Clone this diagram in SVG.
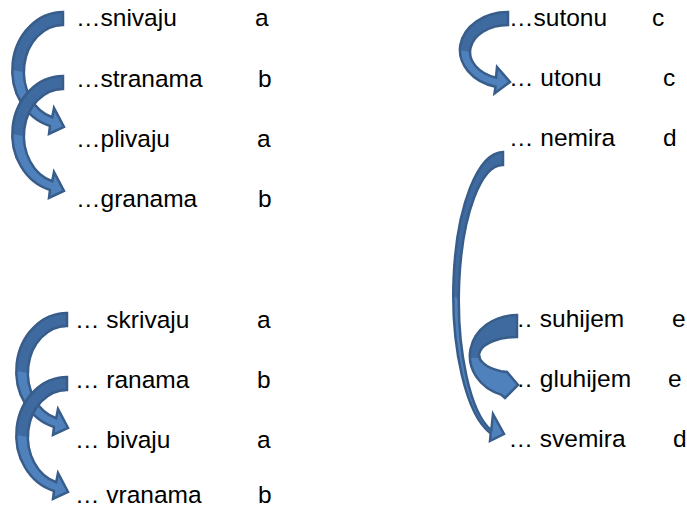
<svg xmlns="http://www.w3.org/2000/svg" width="687" height="508" viewBox="0 0 687 508">
<style>
.t{font-family:"Liberation Sans",Arial,sans-serif;font-size:24.5px;fill:#000}
.f{fill:#4F81BD}
.d{fill:#3E6A9F}
.o{fill:none;stroke:#385D8A;stroke-width:2.5;stroke-linejoin:miter}
</style>
<defs>
<g id="arrL">
<path class="f" d="M63 12A51 58 0 0 0 50 126L49 134L64 127L54 108L52.2 117.2A39 47 0 0 1 63 25Z"/>
<path class="d" d="M63 12A51 58 0 0 0 12 70L24 72A39 47 0 0 1 63 25Z"/>
<path class="o" d="M63 12A51 58 0 0 0 50 126L49 134L64 127L54 108L52.2 117.2A39 47 0 0 1 63 25Z"/>
</g>
</defs>
<rect width="687" height="508" fill="#fff"/>
<g id="nodes">
<g id="n-snivaju"><text class="t" x="76" y="26">…snivaju</text><text class="t" x="255" y="26">a</text></g>
<g id="n-stranama"><text class="t" x="76" y="87">…stranama</text><text class="t" x="258" y="87">b</text></g>
<g id="n-plivaju"><text class="t" x="76" y="147">…plivaju</text><text class="t" x="257" y="147">a</text></g>
<g id="n-granama"><text class="t" x="76" y="207">…granama</text><text class="t" x="258" y="207">b</text></g>
<g id="n-skrivaju"><text class="t" x="75" y="328">… skrivaju</text><text class="t" x="257" y="328">a</text></g>
<g id="n-ranama"><text class="t" x="75" y="388">… ranama</text><text class="t" x="257" y="388">b</text></g>
<g id="n-bivaju"><text class="t" x="75" y="448">… bivaju</text><text class="t" x="257" y="448">a</text></g>
<g id="n-vranama"><text class="t" x="75" y="503">… vranama</text><text class="t" x="258" y="503">b</text></g>
<g id="n-sutonu"><text class="t" x="509" y="26">…sutonu</text><text class="t" x="652" y="26">c</text></g>
<g id="n-utonu"><text class="t" x="509" y="86">… utonu</text><text class="t" x="663" y="86">c</text></g>
<g id="n-nemira"><text class="t" x="509" y="146">… nemira</text><text class="t" x="663" y="146">d</text></g>
<g id="n-suhijem"><text class="t" x="508.5" y="327">… suhijem</text><text class="t" x="672" y="327">e</text></g>
<g id="n-gluhijem"><text class="t" x="508.5" y="387">… gluhijem</text><text class="t" x="668" y="387">e</text></g>
<g id="n-svemira"><text class="t" x="508.5" y="447">… svemira</text><text class="t" x="673" y="447">d</text></g>
</g>
<g id="connectors">
<use href="#arrL"/>
<use href="#arrL" transform="translate(0,64)"/>
<use href="#arrL" transform="translate(4,301)"/>
<use href="#arrL" transform="translate(4,365)"/>
<g id="arrC">
<path class="f" d="M508 12A48 38 0 0 0 495.5 86.7L494.5 93.5L510 82L497 67L496 77.6A38 27 0 0 1 508 25Z"/>
<path class="d" d="M508 12A48 38 0 0 0 460 50L470 52A38 27 0 0 1 508 25Z"/>
<path class="o" d="M508 12A48 38 0 0 0 495.5 86.7L494.5 93.5L510 82L497 67L496 77.6A38 27 0 0 1 508 25Z"/>
</g>
<g id="arrD">
<path class="f" d="M503 152A50 143 0 0 0 490.7 433.4L490 441L504 434L493 414L491.3 430.3A44 135 0 0 1 503 165Z"/>
<path class="d" d="M503 152A50 143 0 0 0 453 295L459 300A44 135 0 0 1 503 165Z"/>
<path class="o" d="M503 152A50 143 0 0 0 490.7 433.4L490 441L504 434L493 414L491.3 430.3A44 135 0 0 1 503 165Z"/>
</g>
<g id="arrE">
<path class="f" d="M517 315A47 41 0 0 0 501 394.6L505 398L518 385L507 372L501 371.3A38 18 0 0 1 517 337Z"/>
<path class="d" d="M517 315A47 41 0 0 0 470 358L480 358A38 18 0 0 1 517 337Z"/>
<path class="o" d="M517 315A47 41 0 0 0 501 394.6L505 398L518 385L507 372L501 371.3A38 18 0 0 1 517 337Z"/>
</g>
</g>
</svg>
